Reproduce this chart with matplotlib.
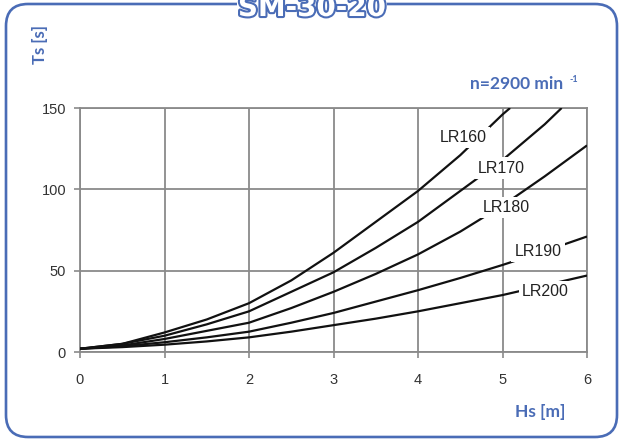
import matplotlib
matplotlib.use("Agg")
import matplotlib.pyplot as plt
from matplotlib.patches import FancyBboxPatch
from matplotlib.transforms import IdentityTransform
import matplotlib.patheffects as pe

# ---- data ----
title = "SM-30-20"
series_names = ["LR160", "LR170", "LR180", "LR190", "LR200"]
x_lr160 = [0, 0.5, 1, 1.5, 2, 2.5, 3, 3.5, 4, 4.5, 5, 5.09]
y_lr160 = [2, 5, 12, 20, 30, 44, 61, 80, 99, 121, 146, 150]
x_lr170 = [0, 0.5, 1, 1.5, 2, 2.5, 3, 3.5, 4, 4.5, 5, 5.5, 5.7]
y_lr170 = [2, 5, 10, 17, 25, 37, 49, 64, 80, 99, 118, 140, 150]
x_lr180 = [0, 0.5, 1, 1.5, 2, 2.5, 3, 3.5, 4, 4.5, 5, 5.5, 6]
y_lr180 = [2, 4, 8, 13, 18, 27, 37, 48, 60, 74, 90, 108, 127]
x_lr190 = [0, 0.5, 1, 1.5, 2, 2.5, 3, 3.5, 4, 4.5, 5, 5.5, 6]
y_lr190 = [2, 3.5, 6, 9, 12.5, 18, 24, 31, 38, 45.5, 53.5, 62, 71]
x_lr200 = [0, 0.5, 1, 1.5, 2, 2.5, 3, 3.5, 4, 4.5, 5, 5.5, 6]
y_lr200 = [2, 3, 4.5, 6.5, 9, 12.5, 16.5, 20.5, 25, 30, 35, 41, 47]
label_x = [4.54, 4.99, 5.05, 5.42, 5.51]
label_y = [132, 113, 89, 62, 37]
x_ticks = [0, 1, 2, 3, 4, 5, 6]
y_ticks = [0, 50, 100, 150]

xs = [x_lr160, x_lr170, x_lr180, x_lr190, x_lr200]
ys = [y_lr160, y_lr170, y_lr180, y_lr190, y_lr200]

BLUE = "#4a6cb6"
W, H = 623, 441
fig = plt.figure(figsize=(W / 100, H / 100), dpi=100)

ax = fig.add_axes([80 / W, 1 - 352 / H, (587 - 80) / W, (352 - 108) / H])
for xv, yv in zip(xs, ys):
    ax.plot(xv, yv, color="#111111", lw=1.6, solid_capstyle="butt", zorder=3)
for name, lx, ly in zip(series_names, label_x, label_y):
    ax.text(lx, ly, name, ha="center", va="center", fontsize=11.5,
            family="Liberation Sans", color="#222222", zorder=4,
            bbox=dict(boxstyle="square,pad=0.2", fc="white", ec="none"))

ax.set_xlim(0, 6)
ax.set_ylim(0, 150)
ax.set_xticks(x_ticks)
ax.set_yticks(y_ticks)
ax.set_xticklabels([str(v) for v in x_ticks])
ax.set_yticklabels([str(v) for v in y_ticks])
ax.grid(True, color="#8a8a8a", lw=1.3)
ax.set_axisbelow(True)
for s in ax.spines.values():
    s.set_color("#8a8a8a")
    s.set_linewidth(1.3)
ax.tick_params(direction="out", length=4, width=1.2, color="#8a8a8a",
               labelsize=10.5, labelcolor="#333333", pad=11)
for lab in ax.get_xticklabels() + ax.get_yticklabels():
    lab.set_family("Liberation Sans")
ax.tick_params(axis="y", pad=6)

# rounded frame
frame = FancyBboxPatch((6, 4), 611, 433, boxstyle="round,pad=0,rounding_size=22",
                       transform=IdentityTransform(), fill=False, ec=BLUE, lw=1.9)
fig.patches.append(frame)

# title on the frame
fig.text(312 / W, 1 - 8 / H, title, ha="center", va="center", fontsize=20,
         fontweight="bold", family="DejaVu Sans", color="white",
         bbox=dict(boxstyle="square,pad=0.05", fc="white", ec="none"),
         path_effects=[pe.withStroke(linewidth=3, foreground=BLUE)])

fig.text(40 / W, 1 - 45 / H, "Ts [s]", rotation=90, ha="center", va="center",
         fontsize=12, fontweight="bold", family="Lato", color=BLUE)
fig.text(517 / W, 1 - 84 / H, "n=2900 min", ha="center", va="center",
         fontsize=12.5, fontweight="bold", family="Lato", color=BLUE)
fig.text(574 / W, 1 - 79 / H, "-1", ha="center", va="center",
         fontsize=6.5, fontweight="bold", family="Lato", color=BLUE)
fig.text(540 / W, 1 - 412 / H, "Hs [m]", ha="center", va="center",
         fontsize=12.5, fontweight="bold", family="Lato", color=BLUE)

fig.savefig("out.png", dpi=100)
